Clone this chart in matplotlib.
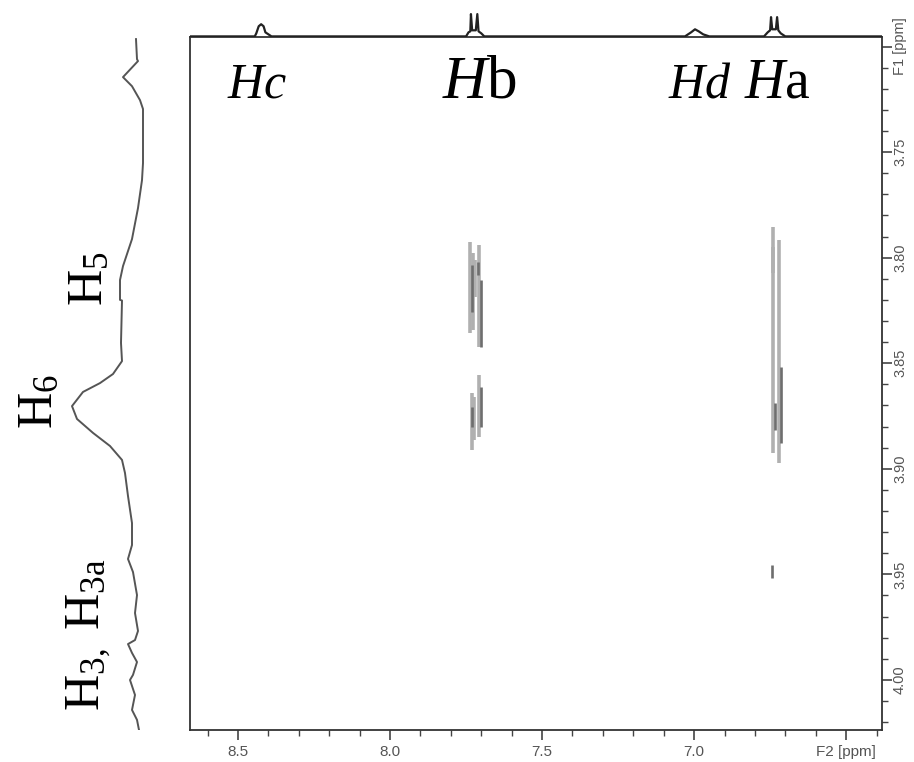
import numpy as np
import matplotlib
matplotlib.use("Agg")
import matplotlib.pyplot as plt

plt.rcParams['font.family'] = ['Liberation Serif', 'DejaVu Serif']
plt.rcParams['mathtext.fontset'] = 'custom'
plt.rcParams['mathtext.rm'] = 'Liberation Serif'
plt.rcParams['mathtext.it'] = 'Liberation Serif:italic'

# --- 1D projection along F2 (top trace), ppm and relative height
f2_ppm = [8.66, 8.445, 8.44, 8.432, 8.424, 8.416, 8.41, 8.40, 8.39,
          7.75, 7.742, 7.736, 7.734, 7.730, 7.718, 7.713, 7.709, 7.70, 7.69,
          7.03, 7.01, 6.997, 6.985, 6.97, 6.95,
          6.77, 6.758, 6.750, 6.747, 6.743, 6.731, 6.727, 6.723, 6.715, 6.70, 6.38]
f2_int = [0, 0, 3, 10, 12, 10, 4, 2, 0,
          0, 4, 5, 22, 6, 6, 22, 5, 3, 0,
          0, 4, 7, 5, 2, 0,
          0, 4, 6, 19, 7, 7, 19, 6, 3, 0, 0]

# --- 1D projection along F1 (left trace)
f1_ppm = [3.6965, 3.7060, 3.7069, 3.7145, 3.7188, 3.7254, 3.7296, 3.7552, 3.7633,
          3.7765, 3.7912, 3.8040, 3.8106, 3.8200, 3.8203, 3.8404, 3.8490, 3.8551,
          3.8594, 3.8636, 3.8703, 3.8764, 3.8830, 3.8892, 3.8958, 3.9020, 3.9129,
          3.9257, 3.9361, 3.9427, 3.9489, 3.9598, 3.9683, 3.9768, 3.9811, 3.9830,
          3.9872, 3.9915, 3.9976, 4.0000, 4.0071, 4.0142, 4.0189, 4.0237]
f1_int = [9, 8, 7, 22, 13, 5, 2, 2, 3,
          7, 13, 22, 25, 25, 23, 24, 23, 32,
          45, 62, 73, 68, 52, 35, 23, 20, 17,
          13, 13, 17, 12, 8, 10, 7, 10, 17,
          13, 8, 12, 15, 10, 13, 8, 6]

# --- cross peaks, drawn as contour segments: F2 ppm, F1 start, F1 end
light_x = [7.7368, 7.7280, 7.7204, 7.7063, 7.7313, 7.7237, 7.7063, 6.7411, 6.7411, 6.7194]
light_y0 = [3.7926, 3.7978, 3.8011, 3.7940, 3.8641, 3.8660, 3.8556, 3.7855, 3.7950, 3.7917]
light_y1 = [3.8357, 3.8343, 3.8187, 3.8423, 3.8911, 3.8864, 3.8849, 3.8073, 3.8925, 3.8973]

dark_x = [7.7313, 7.7007, 7.7095, 7.7299, 7.7023, 6.7138, 6.7336, 6.7434]
dark_y0 = [3.8035, 3.8106, 3.8021, 3.8707, 3.8613, 3.8518, 3.8688, 3.9455]
dark_y1 = [3.8258, 3.8423, 3.8082, 3.8802, 3.8802, 3.8878, 3.8816, 3.9517]

x_ticks = [8.5, 8.0, 7.5, 7.0, 6.5]
x_labels = ['8.5', '8.0', '7.5', '7.0', 'F2 [ppm]']
y_ticks = [3.70, 3.75, 3.80, 3.85, 3.90, 3.95, 4.00]
y_labels = ['F1 [ppm]', '3.75', '3.80', '3.85', '3.90', '3.95', '4.00']

W, H = 914, 762
fig = plt.figure(figsize=(W / 100, H / 100), dpi=100)
fig.patch.set_facecolor('white')

def fx(px):
    return px / W

def fy(py):
    return 1 - py / H

L, R, T, B = 190, 882, 37, 730
xlim = (8.658, 6.382)
ylim = (4.0237, 3.6955)

ax = fig.add_axes([fx(L), fy(B), fx(R - L), fy(T) - fy(B)])
ax.set_xlim(*xlim)
ax.set_ylim(*ylim)
ax.vlines(light_x, light_y0, light_y1, color='#b0b0b0', lw=2.6)
ax.vlines(dark_x, dark_y0, dark_y1, color='#6e6e6e', lw=1.9)

for s in ax.spines.values():
    s.set_color('#333333')
    s.set_linewidth(1.3)

ax.set_xticks(x_ticks)
ax.set_xticklabels(x_labels)
ax.set_xticks(np.arange(6.4, 8.66, 0.1), minor=True)
ax.yaxis.tick_right()
ax.set_yticks(y_ticks)
ax.set_yticklabels(y_labels)
ax.set_yticks(np.arange(3.70, 4.021, 0.01), minor=True)
ax.tick_params(which='major', direction='out', length=7, width=1.2, color='#444444',
               labelsize=11, labelcolor='#555555')
ax.tick_params(which='minor', direction='out', length=4, width=1.0, color='#444444')
ax.tick_params(axis='y', which='both', left=False, right=True, pad=1, labelsize=10.5)
for lbl in ax.get_xticklabels() + ax.get_yticklabels():
    lbl.set_fontfamily('Liberation Sans')
for lbl in ax.get_yticklabels():
    lbl.set_rotation(90)
    lbl.set_va('center')

# top projection
axt = fig.add_axes([fx(L), fy(T), fx(R - L), fy(8) - fy(T)])
axt.plot(f2_ppm, f2_int, color='#222222', lw=1.6)
axt.set_xlim(*xlim)
axt.set_ylim(-0.6, 28)
axt.axis('off')

# left projection
axl = fig.add_axes([0, fy(B), fx(150), fy(T) - fy(B)])
axl.plot(f1_int, f1_ppm, color='#555555', lw=1.4)
axl.set_xlim(145, -5)
axl.set_ylim(*ylim)
axl.axis('off')

# assignments
fig.text(fx(257), fy(97), r'$\mathit{Hc}$', fontsize=36, ha='center', va='baseline')
fig.text(fx(480), fy(97), r'$\mathit{H}$b', fontsize=44, ha='center', va='baseline')
fig.text(fx(700), fy(97), r'$\mathit{Hd}$', fontsize=36, ha='center', va='baseline')
fig.text(fx(777), fy(97), r'$\mathit{H}$a', fontsize=40, ha='center', va='baseline')

fig.text(fx(90), fy(279), r'H$_5$', fontsize=36, rotation=90, ha='center', va='center')
fig.text(fx(40), fy(402), r'H$_{\mathit{6}}$', fontsize=36, rotation=90, ha='center', va='center')
fig.text(fx(89), fy(635), r'H$_{3,}$ H$_{\mathrm{3a}}$', fontsize=36, rotation=90,
         ha='center', va='center')

fig.savefig('out.png', dpi=100, facecolor='white')
